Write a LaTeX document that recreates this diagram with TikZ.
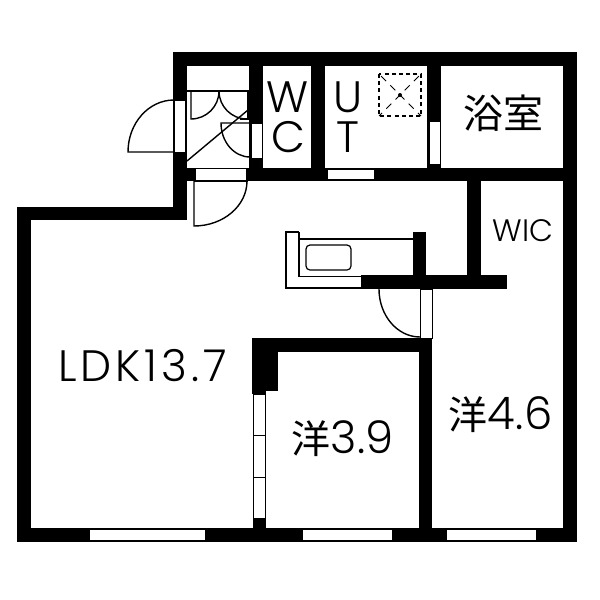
\documentclass[tikz,border=0pt]{standalone}
\usepackage{fontspec}
\setmainfont{Poppins Light}
\newfontfamily\jpfont{Noto Sans CJK JP}
\newfontfamily\widefont[LetterSpace=9]{Poppins Light}
\newfontfamily\midfont[LetterSpace=1]{Poppins Light}
\tikzset{
  wall/.style={fill=black,draw=none},
  opening/.style={fill=white,draw=black,line width=1pt},
  thin/.style={draw=black,line width=1.2pt},
  leaf/.style={draw=black,line width=1.4pt},
  lbl/.style={inner sep=0pt,font=\fontsize{44}{44}\selectfont,text=black},
}
\newcommand{\qarc}[6]{% start (#1,#2) end (#3,#4) corner (#5,#6)
  .. controls ($(#1,#2)!0.5523!(#5,#6)$) and ($(#3,#4)!0.5523!(#5,#6)$) .. (#3,#4)}
\usetikzlibrary{calc}
\begin{document}
\begin{tikzpicture}[x=1pt,y=-1pt]
\useasboundingbox (0,0) rectangle (600,600);
\fill[white] (0,0) rectangle (600,600);
% outer walls
\fill[wall] (173,52) rectangle (577,66);
\fill[wall] (563,52) rectangle (577,542);
\fill[wall] (17,528) rectangle (577,542);
\fill[wall] (17,207) rectangle (31,542);
\fill[wall] (17,207) rectangle (187,220);
\fill[wall] (173,52) rectangle (187,220);
% inner walls
\fill[wall] (187,168) rectangle (577,181);
\fill[wall] (249,66) rectangle (263,168);
\fill[wall] (311,66) rectangle (325,168);
\fill[wall] (427,66) rectangle (441,168);
\fill[wall] (467,181) rectangle (481,275);
\fill[wall] (413,232) rectangle (426,275);
\fill[wall] (361,275) rectangle (507,289);
\fill[wall] (252,338) rectangle (432,352);
\fill[wall] (419,338) rectangle (432,528);
\fill[wall] (252,352) rectangle (278,391);
\fill[wall] (252,391) rectangle (266,394);
\fill[wall] (253,518) rectangle (266,528);
% openings
\draw[opening] (174,100) rectangle (185,152);
\draw[opening] (251,123) rectangle (262,158);
\fill[white] (195,168.5) rectangle (247,181);
\draw[thin] (195,168.5) rectangle (247,181);
\fill[white] (328,170) rectangle (374,179);
\draw[opening] (429,121) rectangle (440,164);
\draw[opening] (420,289) rectangle (432,338);
\draw[opening] (253.5,394) rectangle (265,435);
\draw[opening] (253.5,435) rectangle (265,477);
\draw[opening] (253.5,477) rectangle (265,518);
\fill[white] (90,530) rectangle (205,540);
\fill[white] (302.5,530) rectangle (391.5,540);
\fill[white] (447,530) rectangle (536,540);
% entrance door
\draw[leaf] (174,152) -- (128,152) \qarc{128}{152}{174}{100}{128}{100};
% lower entry door
\draw[leaf] (194,181) -- (194,226) \qarc{194}{226}{247}{181}{247}{226};
% shoe cupboard
\draw[thin] (187,91) -- (248,91) -- (248,120);
\draw[leaf] (191,91) -- (191,119) \qarc{191}{119}{219}{91}{219}{119};
\draw[leaf] (219,91) \qarc{219}{91}{247}{119}{219}{119};
\draw[leaf] (240,119) -- (248,119);
\draw[leaf] (187,161) -- (248,110);
% WC door
\draw[leaf] (250,123) -- (221,123) \qarc{221}{123}{250}{157}{221}{157};
% fan
\draw[line width=1.5pt,dash pattern=on 4pt off 3.2pt] (379,74) rectangle (421,116);
\draw[line width=1pt,dash pattern=on 7pt off 6pt,dash phase=-3pt] (379,74) -- (421,116);
\draw[line width=1pt,dash pattern=on 7pt off 6pt,dash phase=-3pt] (421,74) -- (379,116);
\fill (400,95) circle (2pt);
% kitchen
\draw[thin] (299,232) -- (286,232) -- (286,288) -- (361,288);
\draw[thin] (299,232) -- (299,276.5) -- (361,276.5);
\draw[thin] (299,239) -- (413,239);
\draw[thin,rounded corners=4pt] (306,245) rectangle (351,270);
% inner door
\draw[leaf] (379,289) \qarc{379}{289}{420}{337}{379}{337};
% labels
\node[lbl] (w) at (288,97) {W};
\node[lbl] (c) at (288,137) {C};
\node[lbl] (u) at (348,97) {U};
\node[lbl] (t) at (348,137) {T};
\node[lbl,font=\fontsize{40}{40}\selectfont\jpfont] (bath) at (503.5,113) {浴室};
\node[lbl,font=\fontsize{31}{31}\selectfont] (wic) at (523,231) {WIC};
\node[lbl,font=\fontsize{44}{44}\selectfont\widefont] (ldk) at (142.5,366) {LDK13.7};
\node[lbl,font=\fontsize{45}{45}\selectfont\midfont] (r39) at (342.5,439) {{\jpfont\fontsize{39}{39}\selectfont 洋}3.9};
\node[lbl,font=\fontsize{45}{45}\selectfont\midfont] (r46) at (500.5,415) {{\jpfont\fontsize{39}{39}\selectfont 洋}4.6};
\end{tikzpicture}
\end{document}
